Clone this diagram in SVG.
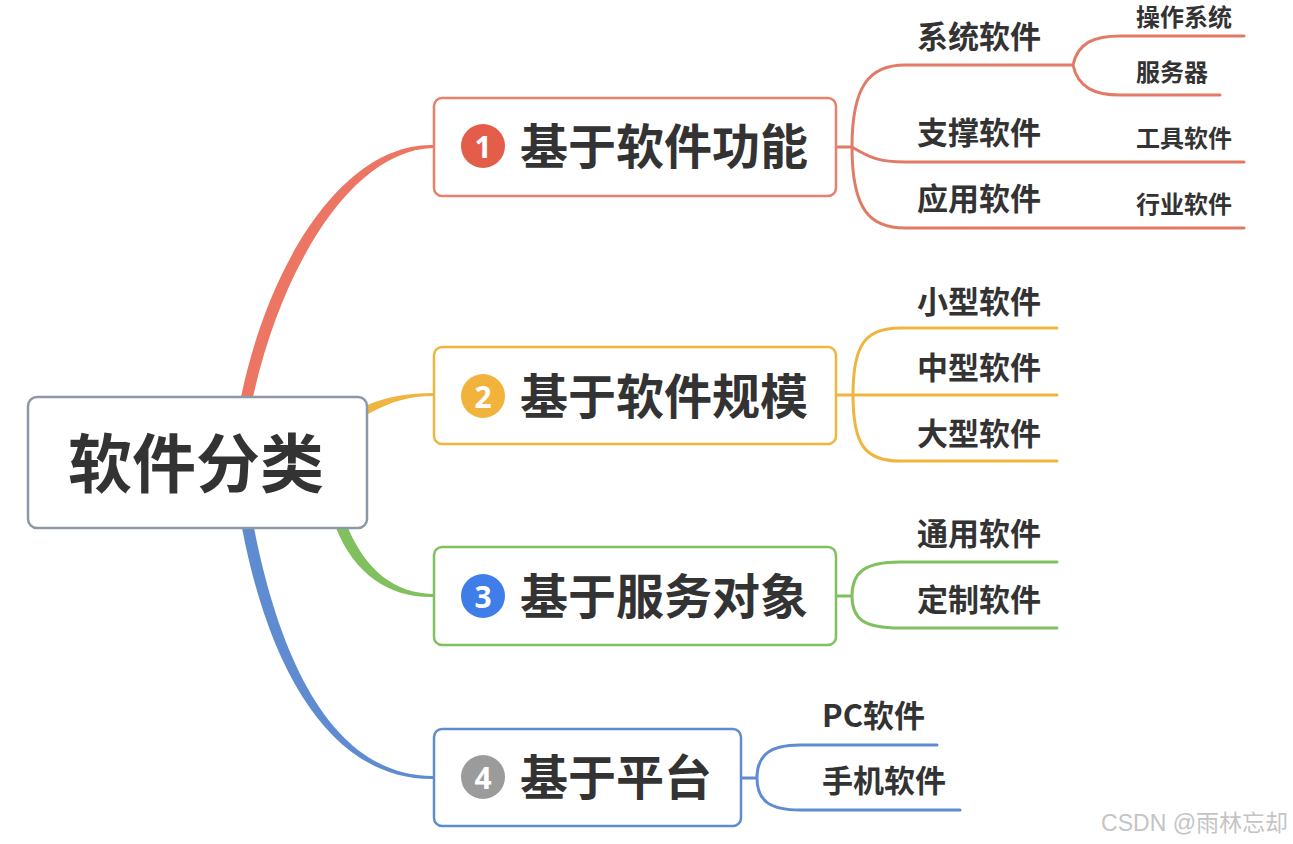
<svg xmlns="http://www.w3.org/2000/svg" width="1293" height="844" viewBox="0 0 1293 844">
<style>
.t{font-family:"Noto Sans CJK SC","Noto Sans",sans-serif;font-weight:bold;fill:#333333;dominant-baseline:central}
.root{font-size:64px}
.main{font-size:48px}
.sub{font-size:31px}
.ter{font-size:24px}
.num{font-family:"Noto Sans","Noto Sans CJK SC",sans-serif;font-weight:bold;font-size:30px;fill:#ffffff;text-anchor:middle;dominant-baseline:central}
.box{fill:#ffffff;stroke-width:2.5}
.ln{fill:none;stroke-width:3;stroke-linecap:round}
.red{stroke:#e27b66}
.yel{stroke:#efb53f}
.grn{stroke:#80c05f}
.blu{stroke:#5f8bd0}
.wm{font-family:"Liberation Sans","Noto Sans CJK SC",sans-serif;font-size:23px;fill:#c4c4c4;text-anchor:end;dominant-baseline:central}
</style>
<rect width="1293" height="844" fill="#ffffff"/>
<g id="connectors">
  <path d="M241,397 C270,258 346,143 433,145 L433,148 C354,150 283,262 253,397 Z" fill="#ec7663"/>
  <path d="M365,406 C388,396 410,393 433,393 L433,396 C410,396 392,401 368,414 Z" fill="#efb53f"/>
  <path d="M336,528 C355,575 390,598 433,597 L433,594 C394,593 366,570 348,528 Z" fill="#80c05f"/>
  <path d="M242,528 C272,684 338,780 433,779 L433,776 C342,776 284,680 254,528 Z" fill="#5f8bd0"/>
  <path class="ln red" d="M836,147 H852 M852,147 C852,85 870,65 905,65 H1073 M852,147 C852,210 870,228 905,228 H1244 M852,147 C870,158 880,162 905,162 H1244 M1073,65 C1078,42 1095,36 1120,36 H1244 M1073,65 C1078,88 1095,95 1120,95 H1220"/>
  <path class="ln yel" d="M836,395 H1057 M853,395 C853,345 865,328 900,328 H1057 M853,395 C853,445 865,461 900,461 H1057"/>
  <path class="ln grn" d="M836,596 H852 M852,596 C852,572 865,562 900,562 H1057 M852,596 C852,620 865,628 900,628 H1057"/>
  <path class="ln blu" d="M741,778 H757 M757,778 C757,755 770,745 800,745 H937 M757,778 C757,801 770,810 800,810 H960"/>
</g>
<g id="root">
  <rect x="28" y="397" width="339" height="131" rx="9" class="box" stroke="#8d97a8" stroke-width="3"/>
  <text x="196" y="459" class="t root" text-anchor="middle">软件分类</text>
</g>
<g id="b1">
  <rect x="434" y="98" width="402" height="98" rx="8" class="box" stroke="#e8806c"/>
  <circle cx="483" cy="146" r="22" fill="#e35d4a"/>
  <text x="483" y="146" class="num">1</text>
  <text x="520" y="143" class="t main">基于软件功能</text>
</g>
<g id="b2">
  <rect x="434" y="347" width="402" height="97" rx="8" class="box" stroke="#efb53f"/>
  <circle cx="483" cy="396" r="22" fill="#f2b33d"/>
  <text x="483" y="396" class="num">2</text>
  <text x="520" y="393" class="t main">基于软件规模</text>
</g>
<g id="b3">
  <rect x="434" y="547" width="402" height="98" rx="8" class="box" stroke="#80c05f"/>
  <circle cx="483" cy="596" r="22" fill="#3f7ee8"/>
  <text x="483" y="596" class="num">3</text>
  <text x="520" y="593" class="t main">基于服务对象</text>
</g>
<g id="b4">
  <rect x="434" y="729" width="307" height="97" rx="8" class="box" stroke="#5f8bd0"/>
  <circle cx="483" cy="777" r="22" fill="#9b9b9b"/>
  <text x="483" y="777" class="num">4</text>
  <text x="520" y="774" class="t main">基于平台</text>
</g>
<g id="s1-1"><text x="917" y="34" class="t sub">系统软件</text></g>
<g id="s1-1a"><text x="1136" y="15" class="t ter">操作系统</text></g>
<g id="s1-1b"><text x="1136" y="70" class="t ter">服务器</text></g>
<g id="s1-2"><text x="917" y="130" class="t sub">支撑软件</text></g>
<g id="s1-2a"><text x="1136" y="136" class="t ter">工具软件</text></g>
<g id="s1-3"><text x="917" y="196" class="t sub">应用软件</text></g>
<g id="s1-3a"><text x="1136" y="202" class="t ter">行业软件</text></g>
<g id="s2-1"><text x="917" y="299" class="t sub">小型软件</text></g>
<g id="s2-2"><text x="917" y="365" class="t sub">中型软件</text></g>
<g id="s2-3"><text x="917" y="431" class="t sub">大型软件</text></g>
<g id="s3-1"><text x="917" y="531" class="t sub">通用软件</text></g>
<g id="s3-2"><text x="917" y="597" class="t sub">定制软件</text></g>
<g id="s4-1"><text x="822" y="713" class="t sub">PC软件</text></g>
<g id="s4-2"><text x="822" y="778" class="t sub">手机软件</text></g>
<text x="1288" y="823" class="wm">CSDN @雨林忘却</text>
</svg>
